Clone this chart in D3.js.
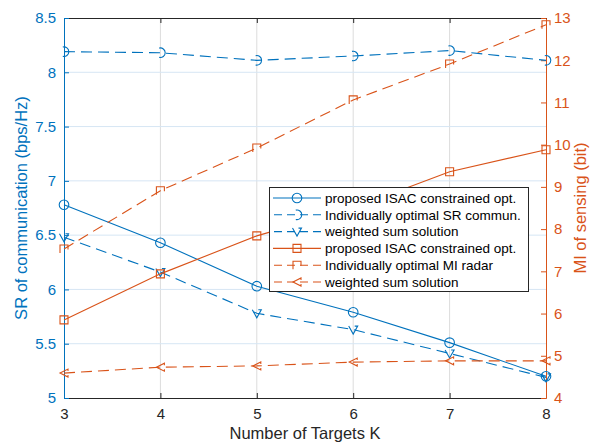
<!DOCTYPE html>
<html><head><meta charset="utf-8">
<script src="https://cdn.jsdelivr.net/npm/d3@7"></script>
<style>body{margin:0;background:#fff;} text{font-family:Arial,"Liberation Sans",sans-serif;}</style>
</head><body><svg id="c" width="590" height="444"></svg>
<script>
const targetsK = [3, 4, 5, 6, 7, 8];
const srProposed = [6.78, 6.43, 6.03, 5.79, 5.51, 5.20];
const srIndividual = [8.19, 8.18, 8.11, 8.15, 8.20, 8.11];
const srWeighted = [6.48, 6.16, 5.78, 5.63, 5.41, 5.19];
const miProposed = [5.85, 6.94, 7.84, 8.50, 9.36, 9.88];
const miIndividual = [7.53, 8.91, 9.92, 11.06, 11.91, 12.84];
const miWeighted = [4.59, 4.73, 4.76, 4.85, 4.88, 4.88];
const xTicks = [3, 4, 5, 6, 7, 8];
const leftTicks = [5, 5.5, 6, 6.5, 7, 7.5, 8, 8.5];
const rightTicks = [4, 5, 6, 7, 8, 9, 10, 11, 12, 13];
const legendLabels = ["proposed ISAC constrained opt.", "Individually optimal SR commun.", "weighted sum solution",
  "proposed ISAC constrained opt.", "Individually optimal MI radar", "weighted sum solution"];

const BLUE = "#0072BD", ORANGE = "#D95319", DARK = "#262626";
const L = 64, R = 546, T = 18, B = 398;
const svg = d3.select("#c");
const x = d3.scaleLinear().domain([3, 8]).range([L, R]);
const yL = d3.scaleLinear().domain([5, 8.5]).range([B, T]);
const yR = d3.scaleLinear().domain([4, 13]).range([B, T]);

// grid
svg.append("g").selectAll("line").data(xTicks.slice(1, -1)).join("line")
  .attr("x1", d => x(d)).attr("x2", d => x(d)).attr("y1", T).attr("y2", B)
  .attr("stroke", "#dcdcdc").attr("stroke-width", 1);
svg.append("g").selectAll("line").data(leftTicks.slice(1, -1)).join("line")
  .attr("x1", L).attr("x2", R).attr("y1", d => yL(d)).attr("y2", d => yL(d))
  .attr("stroke", "#d6e6f4").attr("stroke-width", 1);

// axes
const fs = "15px";
const gx = svg.append("g").attr("transform", `translate(0,${B})`)
  .call(d3.axisBottom(x).tickValues(xTicks).tickSizeInner(-5).tickSizeOuter(0).tickPadding(10).tickFormat(d3.format("d")));
gx.select(".domain").attr("stroke", DARK);
gx.selectAll("line").attr("stroke", DARK);
gx.selectAll("text").attr("fill", DARK).style("font-size", fs);
const gxt = svg.append("g").attr("transform", `translate(0,${T})`)
  .call(d3.axisTop(x).tickValues(xTicks).tickSizeInner(-5).tickSizeOuter(0).tickFormat(""));
gxt.select(".domain").attr("stroke", DARK);
gxt.selectAll("line").attr("stroke", DARK);

const gl = svg.append("g").attr("transform", `translate(${L},0)`)
  .call(d3.axisLeft(yL).tickValues(leftTicks).tickSizeInner(-5).tickSizeOuter(0).tickPadding(8).tickFormat(d3.format("")));
gl.select(".domain").attr("stroke", BLUE);
gl.selectAll("line").attr("stroke", BLUE);
gl.selectAll("text").attr("fill", BLUE).style("font-size", fs);

const gr = svg.append("g").attr("transform", `translate(${R},0)`)
  .call(d3.axisRight(yR).tickValues(rightTicks).tickSizeInner(-5).tickSizeOuter(0).tickPadding(8).tickFormat(d3.format("d")));
gr.select(".domain").attr("stroke", ORANGE);
gr.selectAll("line").attr("stroke", ORANGE);
gr.selectAll("text").attr("fill", ORANGE).style("font-size", fs);

// labels
svg.append("text").attr("x", (L + R) / 2).attr("y", 439).attr("text-anchor", "middle")
  .attr("fill", DARK).style("font-size", "16.5px").text("Number of Targets K");
svg.append("text").attr("transform", `translate(27,${(T + B) / 2}) rotate(-90)`).attr("text-anchor", "middle")
  .attr("fill", BLUE).style("font-size", "16.5px").text("SR of communication (bps/Hz)");
svg.append("text").attr("transform", `translate(585.5,${(T + B) / 2}) rotate(-90)`).attr("text-anchor", "middle")
  .attr("fill", ORANGE).style("font-size", "16.5px").text("MI of sensing (bit)");

// marker shapes
const mk = {
  circle: "M0,-4.8A4.8,4.8 0 1,1 0,4.8A4.8,4.8 0 1,1 0,-4.8Z",
  circleDash: "M-1.2,-4.65A4.8,4.8 0 1,1 -1.2,4.65",
  triDownDash: "M1.5,-3.5L4.5,-3.5L0,4.5L-4.5,-3.5",
  square: "M-4,-4L4,-4L4,4L-4,4Z",
  squareDash: "M-4,4L-4,-4L4,-4L4,0.5",
  triLeftDash: "M4,-2L4,-4L-4,0L4,4L4,2"
};

const series = [
  {vals: srProposed, y: yL, color: BLUE, dash: null, m: mk.circle},
  {vals: srIndividual, y: yL, color: BLUE, dash: "11,6", m: mk.circleDash},
  {vals: srWeighted, y: yL, color: BLUE, dash: "11,6", m: mk.triDownDash},
  {vals: miProposed, y: yR, color: ORANGE, dash: null, m: mk.square},
  {vals: miIndividual, y: yR, color: ORANGE, dash: "11,6", m: mk.squareDash},
  {vals: miWeighted, y: yR, color: ORANGE, dash: "11,6", m: mk.triLeftDash}
];

series.forEach(s => {
  const g = svg.append("g");
  const line = d3.line().x((d, i) => x(targetsK[i])).y(d => s.y(d));
  g.append("path").datum(s.vals).attr("d", line).attr("fill", "none")
    .attr("stroke", s.color).attr("stroke-width", 1.1).attr("stroke-dasharray", s.dash);
  g.selectAll("path.m").data(s.vals).join("path").attr("class", "m")
    .attr("transform", (d, i) => `translate(${x(targetsK[i])},${s.y(d)})`)
    .attr("d", s.m).attr("fill", "none").attr("stroke", s.color).attr("stroke-width", 1.1);
});

// legend
const lg = svg.append("g");
lg.append("rect").attr("x", 269.5).attr("y", 187.5).attr("width", 259).attr("height", 104)
  .attr("fill", "#fff").attr("stroke", DARK).attr("stroke-width", 1);
series.forEach((s, i) => {
  const yy = 198 + i * 16.8;
  lg.append("line").attr("x1", 273).attr("x2", 321).attr("y1", yy).attr("y2", yy)
    .attr("stroke", s.color).attr("stroke-width", 1.1).attr("stroke-dasharray", s.dash ? "8,5" : null)
    .attr("stroke-dashoffset", s.dash ? -1 : null);
  lg.append("path").attr("transform", `translate(297,${yy})`).attr("d", s.m)
    .attr("fill", "none").attr("stroke", s.color).attr("stroke-width", 1.1);
  lg.append("text").attr("x", 325).attr("y", yy).attr("dy", "0.35em")
    .attr("fill", "#000").style("font-size", "13.5px").text(legendLabels[i]);
});
</script></body></html>
